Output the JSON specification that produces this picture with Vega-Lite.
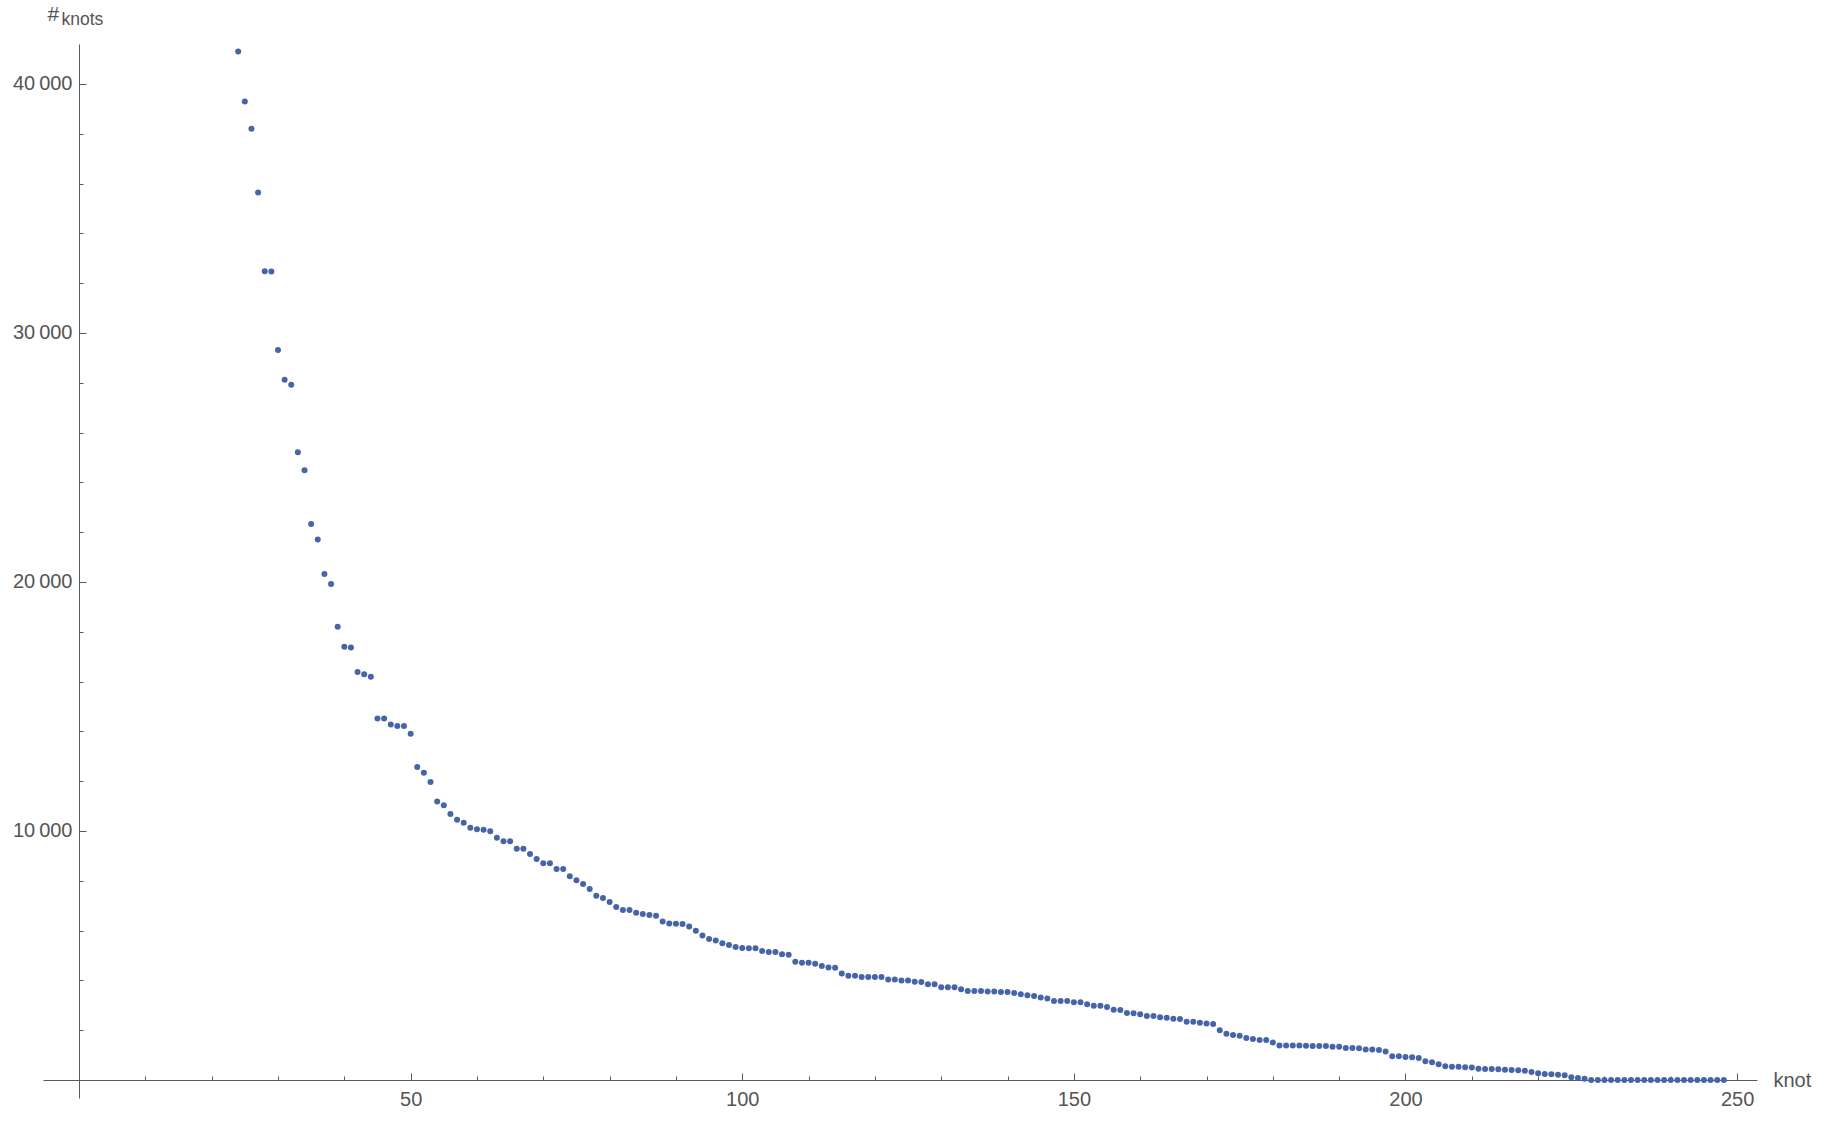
{
  "$schema": "https://vega.github.io/schema/vega-lite/v6.json",
  "width": 1714,
  "height": 1054,
  "autosize": "none",
  "padding": {"left": 43, "top": 44, "right": 69, "bottom": 30},
  "background": "white",
  "config": {
    "view": {"stroke": null},
    "axis": {
      "grid": false,
      "domainColor": "#5a5a5a",
      "domainWidth": 1,
      "tickColor": "#5a5a5a",
      "tickWidth": 1,
      "labelColor": "#555555",
      "titleColor": "#555555",
      "labelFont": "Liberation Sans",
      "titleFont": "Liberation Sans",
      "labelFontSize": 20,
      "titleFontWeight": "normal",
      "labelOverlap": false,
      "labelFlush": false
    }
  },
  "data": {
    "values": [
      {"knot": 24, "count": 41300}, {"knot": 25, "count": 39300}, {"knot": 26, "count": 38200}, {"knot": 27, "count": 35640},
      {"knot": 28, "count": 32480}, {"knot": 29, "count": 32470}, {"knot": 30, "count": 29320}, {"knot": 31, "count": 28120},
      {"knot": 32, "count": 27920}, {"knot": 33, "count": 25210}, {"knot": 34, "count": 24490}, {"knot": 35, "count": 22330},
      {"knot": 36, "count": 21710}, {"knot": 37, "count": 20320}, {"knot": 38, "count": 19920}, {"knot": 39, "count": 18200},
      {"knot": 40, "count": 17400}, {"knot": 41, "count": 17370}, {"knot": 42, "count": 16390}, {"knot": 43, "count": 16290},
      {"knot": 44, "count": 16190}, {"knot": 45, "count": 14520}, {"knot": 46, "count": 14520}, {"knot": 47, "count": 14280},
      {"knot": 48, "count": 14220}, {"knot": 49, "count": 14220}, {"knot": 50, "count": 13910}, {"knot": 51, "count": 12570},
      {"knot": 52, "count": 12340}, {"knot": 53, "count": 11970}, {"knot": 54, "count": 11180}, {"knot": 55, "count": 11030},
      {"knot": 56, "count": 10680}, {"knot": 57, "count": 10450}, {"knot": 58, "count": 10330}, {"knot": 59, "count": 10130},
      {"knot": 60, "count": 10070}, {"knot": 61, "count": 10050}, {"knot": 62, "count": 9990}, {"knot": 63, "count": 9730},
      {"knot": 64, "count": 9590}, {"knot": 65, "count": 9590}, {"knot": 66, "count": 9290}, {"knot": 67, "count": 9290},
      {"knot": 68, "count": 9080}, {"knot": 69, "count": 8880}, {"knot": 70, "count": 8700}, {"knot": 71, "count": 8700},
      {"knot": 72, "count": 8470}, {"knot": 73, "count": 8470}, {"knot": 74, "count": 8180}, {"knot": 75, "count": 8020},
      {"knot": 76, "count": 7870}, {"knot": 77, "count": 7670}, {"knot": 78, "count": 7400}, {"knot": 79, "count": 7310},
      {"knot": 80, "count": 7150}, {"knot": 81, "count": 6950}, {"knot": 82, "count": 6830}, {"knot": 83, "count": 6830},
      {"knot": 84, "count": 6720}, {"knot": 85, "count": 6670}, {"knot": 86, "count": 6630}, {"knot": 87, "count": 6600},
      {"knot": 88, "count": 6370}, {"knot": 89, "count": 6280}, {"knot": 90, "count": 6270}, {"knot": 91, "count": 6260},
      {"knot": 92, "count": 6160}, {"knot": 93, "count": 5990}, {"knot": 94, "count": 5800}, {"knot": 95, "count": 5660},
      {"knot": 96, "count": 5600}, {"knot": 97, "count": 5490}, {"knot": 98, "count": 5420}, {"knot": 99, "count": 5340},
      {"knot": 100, "count": 5300}, {"knot": 101, "count": 5290}, {"knot": 102, "count": 5290}, {"knot": 103, "count": 5180},
      {"knot": 104, "count": 5140}, {"knot": 105, "count": 5140}, {"knot": 106, "count": 5050}, {"knot": 107, "count": 5030},
      {"knot": 108, "count": 4750}, {"knot": 109, "count": 4710}, {"knot": 110, "count": 4710}, {"knot": 111, "count": 4670},
      {"knot": 112, "count": 4580}, {"knot": 113, "count": 4520}, {"knot": 114, "count": 4510}, {"knot": 115, "count": 4280},
      {"knot": 116, "count": 4190}, {"knot": 117, "count": 4190}, {"knot": 118, "count": 4140}, {"knot": 119, "count": 4140},
      {"knot": 120, "count": 4140}, {"knot": 121, "count": 4140}, {"knot": 122, "count": 4040}, {"knot": 123, "count": 4040},
      {"knot": 124, "count": 4000}, {"knot": 125, "count": 4000}, {"knot": 126, "count": 3950}, {"knot": 127, "count": 3940},
      {"knot": 128, "count": 3850}, {"knot": 129, "count": 3850}, {"knot": 130, "count": 3720}, {"knot": 131, "count": 3720},
      {"knot": 132, "count": 3720}, {"knot": 133, "count": 3640}, {"knot": 134, "count": 3570}, {"knot": 135, "count": 3570},
      {"knot": 136, "count": 3570}, {"knot": 137, "count": 3550}, {"knot": 138, "count": 3550}, {"knot": 139, "count": 3530},
      {"knot": 140, "count": 3530}, {"knot": 141, "count": 3490}, {"knot": 142, "count": 3440}, {"knot": 143, "count": 3400},
      {"knot": 144, "count": 3370}, {"knot": 145, "count": 3310}, {"knot": 146, "count": 3270}, {"knot": 147, "count": 3170},
      {"knot": 148, "count": 3170}, {"knot": 149, "count": 3170}, {"knot": 150, "count": 3120}, {"knot": 151, "count": 3120},
      {"knot": 152, "count": 3040}, {"knot": 153, "count": 2980}, {"knot": 154, "count": 2980}, {"knot": 155, "count": 2930},
      {"knot": 156, "count": 2820}, {"knot": 157, "count": 2810}, {"knot": 158, "count": 2690}, {"knot": 159, "count": 2680},
      {"knot": 160, "count": 2640}, {"knot": 161, "count": 2570}, {"knot": 162, "count": 2570}, {"knot": 163, "count": 2520},
      {"knot": 164, "count": 2500}, {"knot": 165, "count": 2460}, {"knot": 166, "count": 2450}, {"knot": 167, "count": 2340},
      {"knot": 168, "count": 2340}, {"knot": 169, "count": 2300}, {"knot": 170, "count": 2270}, {"knot": 171, "count": 2250},
      {"knot": 172, "count": 2000}, {"knot": 173, "count": 1860}, {"knot": 174, "count": 1810}, {"knot": 175, "count": 1780},
      {"knot": 176, "count": 1690}, {"knot": 177, "count": 1650}, {"knot": 178, "count": 1610}, {"knot": 179, "count": 1610},
      {"knot": 180, "count": 1510}, {"knot": 181, "count": 1390}, {"knot": 182, "count": 1390}, {"knot": 183, "count": 1390},
      {"knot": 184, "count": 1390}, {"knot": 185, "count": 1380}, {"knot": 186, "count": 1370}, {"knot": 187, "count": 1370},
      {"knot": 188, "count": 1370}, {"knot": 189, "count": 1340}, {"knot": 190, "count": 1340}, {"knot": 191, "count": 1290},
      {"knot": 192, "count": 1290}, {"knot": 193, "count": 1270}, {"knot": 194, "count": 1220}, {"knot": 195, "count": 1220},
      {"knot": 196, "count": 1200}, {"knot": 197, "count": 1140}, {"knot": 198, "count": 950}, {"knot": 199, "count": 950},
      {"knot": 200, "count": 920}, {"knot": 201, "count": 910}, {"knot": 202, "count": 880}, {"knot": 203, "count": 750},
      {"knot": 204, "count": 710}, {"knot": 205, "count": 630}, {"knot": 206, "count": 550}, {"knot": 207, "count": 530},
      {"knot": 208, "count": 530}, {"knot": 209, "count": 510}, {"knot": 210, "count": 500}, {"knot": 211, "count": 450},
      {"knot": 212, "count": 440}, {"knot": 213, "count": 440}, {"knot": 214, "count": 430}, {"knot": 215, "count": 410},
      {"knot": 216, "count": 400}, {"knot": 217, "count": 390}, {"knot": 218, "count": 370}, {"knot": 219, "count": 320},
      {"knot": 220, "count": 270}, {"knot": 221, "count": 240}, {"knot": 222, "count": 230}, {"knot": 223, "count": 210},
      {"knot": 224, "count": 190}, {"knot": 225, "count": 110}, {"knot": 226, "count": 80}, {"knot": 227, "count": 50},
      {"knot": 228, "count": 0}, {"knot": 229, "count": 0}, {"knot": 230, "count": 0}, {"knot": 231, "count": 0},
      {"knot": 232, "count": 0}, {"knot": 233, "count": 0}, {"knot": 234, "count": 0}, {"knot": 235, "count": 0},
      {"knot": 236, "count": 0}, {"knot": 237, "count": 0}, {"knot": 238, "count": 0}, {"knot": 239, "count": 0},
      {"knot": 240, "count": 0}, {"knot": 241, "count": 0}, {"knot": 242, "count": 0}, {"knot": 243, "count": 0},
      {"knot": 244, "count": 0}, {"knot": 245, "count": 0}, {"knot": 246, "count": 0}, {"knot": 247, "count": 0},
      {"knot": 248, "count": 0}
    ]
  },
  "layer": [
    {
      "mark": {"type": "point", "filled": true, "shape": "circle", "size": 36, "color": "#4565a8", "opacity": 1, "strokeWidth": 0, "clip": false},
      "encoding": {
        "x": {
          "field": "knot", "type": "quantitative",
          "scale": {"domain": [-5.43, 253.0], "nice": false, "zero": false},
          "axis": {
            "orient": "bottom", "offset": -18, "values": [50, 100, 150, 200, 250],
            "tickSize": -7, "labelPadding": 16, "labelFontSize": 20,
            "title": "knot", "titleX": 1730, "titleY": 0, "titleAlign": "left", "titleBaseline": "middle",
            "titleFontSize": 20, "titleAngle": 0
          }
        },
        "y": {
          "field": "count", "type": "quantitative",
          "scale": {"domain": [-723, 41606], "nice": false, "zero": false},
          "axis": {
            "orient": "left", "offset": -36, "values": [10000, 20000, 30000, 40000],
            "tickSize": -7, "labelPadding": 14, "labelFontSize": 20,
            "labelExpr": "replace(format(datum.value, ','), ',', '\u2009')",
            "title": "#", "titleX": -32, "titleY": -24, "titleAngle": 0, "titleAlign": "left",
            "titleBaseline": "alphabetic", "titleFontSize": 21
          }
        }
      }
    },
    {
      "mark": {"type": "point", "opacity": 0},
      "encoding": {
        "x": {
          "field": "knot", "type": "quantitative",
          "scale": {"domain": [-5.43, 253.0], "nice": false, "zero": false},
          "axis": {
            "orient": "bottom", "offset": -18,
            "values": [10, 20, 30, 40, 60, 70, 80, 90, 110, 120, 130, 140, 160, 170, 180, 190, 210, 220, 230, 240],
            "tickSize": -4, "labels": false, "domain": false, "title": null
          }
        },
        "y": {
          "field": "count", "type": "quantitative",
          "scale": {"domain": [-723, 41606], "nice": false, "zero": false},
          "axis": {
            "orient": "left", "offset": -36,
            "values": [2000, 4000, 6000, 8000, 12000, 14000, 16000, 18000, 22000, 24000, 26000, 28000, 32000, 34000, 36000, 38000],
            "tickSize": -4, "labels": false, "domain": false,
            "title": "knots", "titleX": -18, "titleY": -20, "titleAngle": 0, "titleAlign": "left",
            "titleBaseline": "alphabetic", "titleFontSize": 17.5
          }
        }
      }
    }
  ],
  "resolve": {"axis": {"x": "independent", "y": "independent"}}
}
